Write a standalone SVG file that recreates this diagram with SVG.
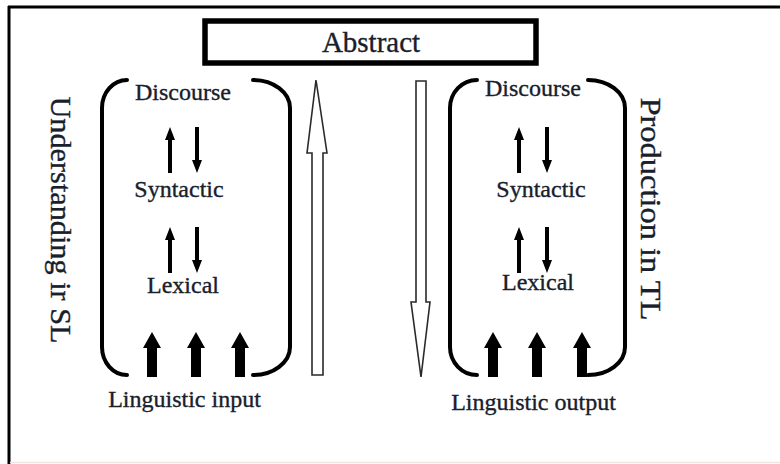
<svg xmlns="http://www.w3.org/2000/svg" width="780" height="464" viewBox="0 0 780 464">
<style>
  text { font-family: "Liberation Serif", "DejaVu Serif", serif; fill: #17202b; stroke: #17202b; stroke-width: 0.35; }
  .lbl { font-size: 24px; text-anchor: middle; }
  .side { font-size: 30px; text-anchor: middle; }
  .brk { fill: none; stroke: #000; stroke-width: 4; stroke-linecap: round; }
  .hollow { fill: #fff; stroke: #2a2a2a; stroke-width: 1.6; stroke-linejoin: miter; }
  .solid { fill: #000; }
</style>
<defs>
  <polygon id="sUp" class="solid" points="0,0 5,13 2,13 2,46 -2,46 -2,13 -5,13"/>
  <polygon id="sDown" class="solid" points="0,46 5,33 2,33 2,0 -2,0 -2,33 -5,33"/>
  <polygon id="bUp" class="solid" points="0,0 9,16 5,16 5,45 -5,45 -5,16 -9,16"/>
</defs>
<rect x="0" y="0" width="780" height="464" fill="#fff"/>
<g id="frame">
  <line x1="8" y1="7" x2="780" y2="7" stroke="#000" stroke-width="3"/>
  <line x1="9" y1="6" x2="9" y2="464" stroke="#000" stroke-width="3"/>
  <line x1="10" y1="462.5" x2="780" y2="462.5" stroke="#f2e4de" stroke-width="1.5"/>
</g>
<g id="abstract">
  <rect x="205" y="21" width="331" height="42" fill="#fff" stroke="#000" stroke-width="5.5"/>
  <text x="371" y="52" style="font-size:29px" text-anchor="middle">Abstract</text>
</g>
<g id="understanding">
  <path class="brk" d="M127,80 A25,28 0 0 0 102,108 L102,347 A25,28 0 0 0 127,375"/>
  <path class="brk" d="M253,80 A37,28 0 0 1 290,108 L290,347 A37,28 0 0 1 253,375"/>
  <text class="side" transform="translate(51,220) rotate(90)" textLength="247" lengthAdjust="spacingAndGlyphs">Understanding ir SL</text>
</g>
<g id="production">
  <path class="brk" d="M477,80 A27,28 0 0 0 450,108 L450,347 A27,28 0 0 0 477,375"/>
  <path class="brk" d="M588,80 A37,28 0 0 1 625,108 L625,347 A37,28 0 0 1 588,375"/>
  <text class="side" transform="translate(641,209) rotate(90)" textLength="223" lengthAdjust="spacingAndGlyphs">Production in TL</text>
</g>
<g id="sl-discourse"><text class="lbl" x="183" y="100">Discourse</text></g>
<g id="sl-syntactic"><text class="lbl" x="179" y="197">Syntactic</text></g>
<g id="sl-lexical"><text class="lbl" x="183" y="293">Lexical</text></g>
<g id="sl-input"><text class="lbl" x="184.5" y="407">Linguistic input</text></g>
<g id="tl-discourse"><text class="lbl" x="533" y="96">Discourse</text></g>
<g id="tl-syntactic"><text class="lbl" x="541" y="197">Syntactic</text></g>
<g id="tl-lexical"><text class="lbl" x="538" y="290">Lexical</text></g>
<g id="tl-output"><text class="lbl" x="533.5" y="410">Linguistic output</text></g>
<g id="connectors">
  <use href="#sUp" x="170" y="127"/>
  <use href="#sDown" x="197" y="127"/>
  <use href="#sUp" x="170" y="227"/>
  <use href="#sDown" x="197" y="227"/>
  <use href="#sUp" x="519" y="127"/>
  <use href="#sDown" x="547" y="127"/>
  <use href="#sUp" x="519" y="227"/>
  <use href="#sDown" x="547" y="227"/>
  <use href="#bUp" x="152" y="332"/>
  <use href="#bUp" x="196" y="332"/>
  <use href="#bUp" x="240" y="332"/>
  <use href="#bUp" x="493" y="332"/>
  <use href="#bUp" x="537" y="332"/>
  <use href="#bUp" x="582" y="332"/>
  <polygon class="hollow" points="316,80 327,153 323,153 323,375 312,375 312,153 307,153"/>
  <polygon class="hollow" points="416,81 426,81 426,302 430,302 421,377 411,302 416,302"/>
</g>
</svg>
